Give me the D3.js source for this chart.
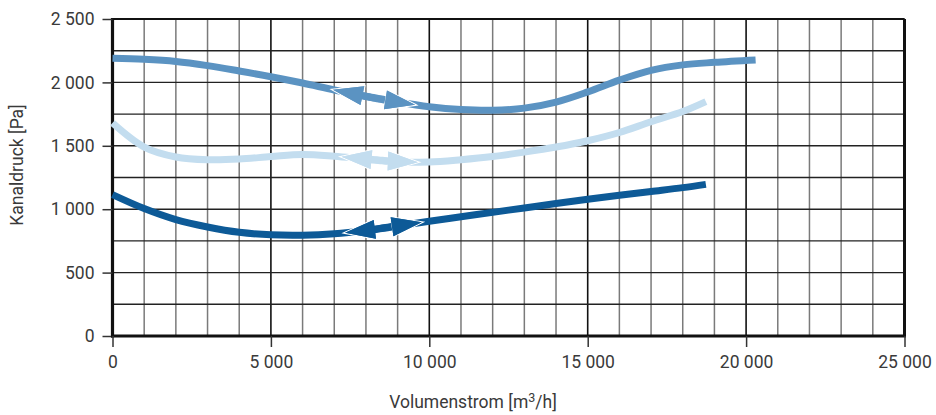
<!DOCTYPE html>
<html><head><meta charset="utf-8">
<script src="https://cdn.jsdelivr.net/npm/d3@7"></script>
<style>body{margin:0;background:#fff}svg{display:block}text{font-family:Roboto,"Liberation Sans",sans-serif;fill:#3a3a3a}</style>
</head><body><svg id="c" width="936" height="415"></svg>
<script>
const xTicks = [0, 5000, 10000, 15000, 20000, 25000];
const yTicks = [0, 500, 1000, 1500, 2000, 2500];
const xTickLabels = ["0", "5 000", "10 000", "15 000", "20 000", "25 000"];
const yTickLabels = ["0", "500", "1 000", "1 500", "2 000", "2 500"];
const xTitleMain = "Volumenstrom [m";
const xTitleSup = "3";
const xTitleEnd = "/h]";
const yTitle = "Kanaldruck [Pa]";

const topX   = [0,1000,2000,3000,4000,5000,6000,7000,8000,9000,10000,11000,12000,13000,14000,15000,16000,17000,18000,19000,20300];
const topY   = [2190,2182,2165,2132,2090,2045,1995,1940,1890,1845,1808,1786,1780,1797,1845,1925,2018,2095,2138,2158,2177];
const lightX = [0,1000,2000,3000,4000,5000,6000,7000,8000,9000,10000,11000,12000,13000,14000,15000,16000,17000,18000,18730];
const lightY = [1680,1490,1412,1390,1395,1415,1432,1418,1395,1375,1372,1390,1415,1450,1490,1540,1605,1690,1770,1848];
const darkX  = [0,1000,2000,3000,4000,5000,6000,7000,8000,9000,10000,11000,12000,13000,14000,15000,16000,17000,18000,18730];
const darkY  = [1115,1005,918,860,818,798,795,806,832,868,905,940,975,1010,1045,1078,1110,1140,1170,1196];
const seriesColors = ["#5b93c2", "#c3ddef", "#0d5a97"];
const arrowLeft  = [6960, 7230, 7340];
const arrowRight = [9550, 9640, 9760];

const svg = d3.select("#c");
const x = d3.scaleLinear().domain([0, 25000]).range([112.5, 904.5]);
const y = d3.scaleLinear().domain([0, 2500]).range([336, 19]);

// grid
const g = svg.append("g");
d3.range(0, 25001, 1000).forEach(v => {
  const major = v % 5000 === 0;
  g.append("line").attr("x1", x(v)).attr("x2", x(v)).attr("y1", y(0)).attr("y2", y(2500))
    .attr("stroke", major ? "#111" : "#7a7a7a").attr("stroke-width", major ? 1.6 : 1.5);
});
d3.range(0, 2501, 250).forEach(v => {
  g.append("line").attr("x1", x(0)).attr("x2", x(25000)).attr("y1", y(v)).attr("y2", y(v))
    .attr("stroke", "#222").attr("stroke-width", 1.4);
});
// frame
g.append("line").attr("x1", x(0)).attr("x2", x(25000)).attr("y1", y(2500)).attr("y2", y(2500)).attr("stroke","#111").attr("stroke-width",2.2);
g.append("line").attr("x1", x(25000)).attr("x2", x(25000)).attr("y1", y(0)).attr("y2", y(2500)).attr("stroke","#111").attr("stroke-width",3);

// axes
const yAxis = d3.axisLeft(y).tickValues(yTicks).tickFormat((d,i)=>yTickLabels[i]).tickSize(10).tickPadding(8);
const xAxis = d3.axisBottom(x).tickValues(xTicks).tickFormat((d,i)=>xTickLabels[i]).tickSize(11).tickPadding(9);
const ya = svg.append("g").attr("transform", `translate(${x(0)},0)`).call(yAxis);
const xa = svg.append("g").attr("transform", `translate(0,${y(0)})`).call(xAxis);
[ya, xa].forEach(a => {
  a.select(".domain").attr("stroke", "#111").attr("stroke-width", 3.2);
  a.selectAll(".tick line").attr("stroke", "#333").attr("stroke-width", 1.5);
  a.selectAll(".tick text").attr("font-size", 17.5).attr("fill", "#3a3a3a").style("font-family","Roboto,'Liberation Sans',sans-serif");
});
ya.select(".domain").attr("d", `M0,${y(0)+1.5}V${y(2500)-1}`);
xa.select(".domain").attr("d", `M${x(0)-1.5},0H${x(25000)+1.5}`);

svg.append("text").attr("transform", "translate(23,165) rotate(-90)").attr("text-anchor","middle")
  .attr("font-size", 17.5).text(yTitle);
const xt = svg.append("text").attr("x", 473).attr("y", 408).attr("text-anchor","middle").attr("font-size", 17.5);
xt.append("tspan").text(xTitleMain);
xt.append("tspan").attr("font-size", 12.5).attr("dy", -6).text(xTitleSup);
xt.append("tspan").attr("dy", 6).text(xTitleEnd);

// curves
const line = d3.line().x(d=>x(d[0])).y(d=>y(d[1])).curve(d3.curveCatmullRom.alpha(0.5));
const series = [[topX, topY], [lightX, lightY], [darkX, darkY]];
series.forEach(([xs, ys], i) => {
  const pts = xs.map((v, j) => [v, ys[j]]);
  const path = svg.append("path").datum(pts).attr("d", line).attr("fill","none")
    .attr("stroke", seriesColors[i]).attr("stroke-width", 7).attr("stroke-linecap","butt");
  const node = path.node();
  const total = node.getTotalLength();
  function lenAtX(px) {
    let lo = 0, hi = total;
    for (let k = 0; k < 40; k++) {
      const mid = (lo + hi) / 2;
      if (node.getPointAtLength(mid).x < px) lo = mid; else hi = mid;
    }
    return (lo + hi) / 2;
  }
  const L1 = lenAtX(x(arrowLeft[i])), L2 = lenAtX(x(arrowRight[i]));
  const headLen = 30, hw = 9.5, sw = 3.8;
  function head(Ltip, Lbase) {
    const tip = node.getPointAtLength(Ltip), base = node.getPointAtLength(Lbase);
    const dx = base.x - tip.x, dy = base.y - tip.y, d = Math.hypot(dx, dy);
    const nx = -dy / d, ny = dx / d;
    return [[tip.x, tip.y], [base.x + nx*hw, base.y + ny*hw], [base.x + nx*sw, base.y + ny*sw],
            [base.x - nx*sw, base.y - ny*sw], [base.x - nx*hw, base.y - ny*hw]];
  }
  const h1 = head(L1, L1 + headLen), h2 = head(L2, L2 - headLen);
  const shaft = [];
  for (let L = L1 + headLen - 1; L <= L2 - headLen + 1; L += 2) { const p = node.getPointAtLength(L); shaft.push([p.x, p.y]); }
  const ag = svg.append("g");
  [h1, h2].forEach(h => {
    ag.append("path").attr("d", "M" + h.map(p=>p.join(",")).join("L") + "Z")
      .attr("fill", seriesColors[i]).attr("stroke", "#fff").attr("stroke-width", 2.2)
      .attr("stroke-linejoin","miter").style("paint-order","stroke");
  });
  ag.append("path").attr("d", d3.line()(shaft)).attr("fill","none").attr("stroke", seriesColors[i]).attr("stroke-width", 7.5);
  [h1, h2].forEach(h => {
    ag.append("path").attr("d", "M" + h.map(p=>p.join(",")).join("L") + "Z")
      .attr("fill", seriesColors[i]).attr("stroke", "none");
  });
});
</script></body></html>
